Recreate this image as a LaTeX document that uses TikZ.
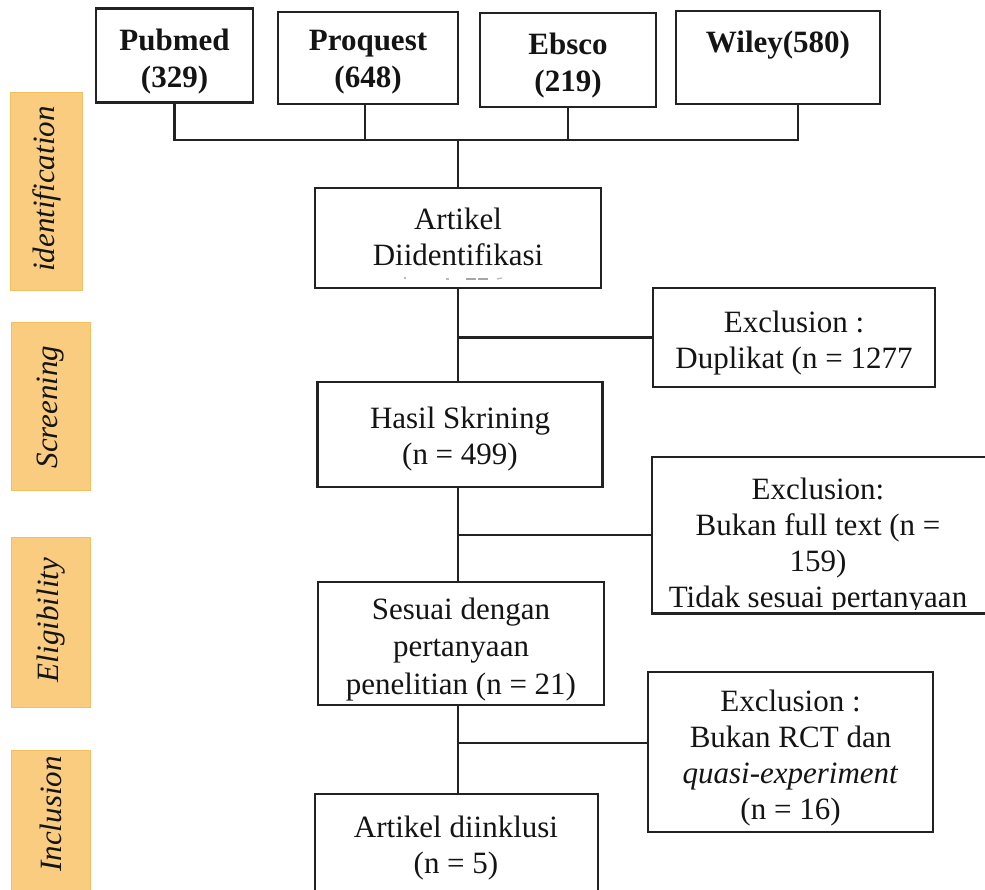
\documentclass[tikz,border=0pt]{standalone}
\usepackage{fontspec}
\setmainfont{Liberation Serif}
\definecolor{txt}{HTML}{141414}
\definecolor{linec}{HTML}{222222}
\definecolor{phasefill}{HTML}{F9CC80}
\definecolor{phasedraw}{HTML}{F2C15F}
\begin{document}
\begin{tikzpicture}[x=1pt,y=-1pt,
  box/.style={draw=linec, line width=2.3pt, inner sep=0pt},
  plaintxt/.style={inner sep=0pt, align=center, text=txt, font=\fontsize{31}{36}\selectfont},
  boldtxt/.style={plaintxt, font=\fontsize{31}{37}\selectfont\bfseries},
  phase/.style={fill=phasefill, draw=phasedraw, line width=0.8pt, inner sep=0pt},
  phasetxt/.style={rotate=90, inner sep=0pt, text=txt, font=\fontsize{31}{36}\selectfont\itshape},
  link/.style={draw=linec, line width=2.3pt}]
\useasboundingbox (0,0) rectangle (985,889);
\fill[white] (0,0) rectangle (985,889);

% phase labels
\node[phase, minimum width=72, minimum height=198] (p1) at (46,191) {};
\node[phasetxt] (p1t) at (47,189) {identification};
\node[phase, minimum width=79, minimum height=168] (p2) at (50.5,406) {};
\node[phasetxt] (p2t) at (51,407) {Screening};
\node[phase, minimum width=79, minimum height=170] (p3) at (50.5,622) {};
\node[phasetxt] (p3t) at (51,620) {Eligibility};
\node[phase, minimum width=79, minimum height=155] (p4) at (50.5,827.5) {};
\node[phasetxt] (p4t) at (51,814) {Inclusion};

% sources
\node[box, minimum width=157, minimum height=94] (pub) at (174.5,55.5) {};
\node[boldtxt] (pubt) at ([yshift=-6.5pt]pub.center) {Pubmed\\(329)};
\node[box, minimum width=180, minimum height=92] (pro) at (368,58) {};
\node[boldtxt] (prot) at ([yshift=-4.5pt]pro.center) {Proquest\\(648)};
\node[box, minimum width=176, minimum height=94] (ebs) at (568,60) {};
\node[boldtxt] (ebst) at ([yshift=-6pt]ebs.center) {Ebsco\\(219)};
\node[box, minimum width=204, minimum height=93] (wil) at (778,57.5) {};
\node[boldtxt] (wilt) at ([yshift=-6pt]wil.center) {Wiley(580)\\\phantom{(580)}};

% main flow
\node[box, minimum width=286, minimum height=100] (art) at (458,238) {};
\node[plaintxt] (artt) at ([yshift=1.5pt]art.center) {Artikel\\Diidentifikasi};
\node[box, minimum width=285, minimum height=105] (has) at (460,434.5) {};
\node[plaintxt] (hast) at ([yshift=-5pt]has.center) {Hasil Skrining\\(n = 499)};
\node[box, minimum width=286, minimum height=123] (ses) at (461,643.5) {};
\node[plaintxt, font=\fontsize{31}{37.5}\selectfont] (sest) at ([yshift=-6pt]ses.center) {Sesuai dengan\\pertanyaan\\penelitian (n = 21)};
\node[box, minimum width=283, minimum height=111] (inc) at (456.5,849.5) {};
\node[plaintxt] (inct) at (456,848) {Artikel diinklusi\\(n = 5)};

% exclusions
\node[box, minimum width=282, minimum height=99] (ex1) at (794,337.5) {};
\node[plaintxt] (ex1t) at ([yshift=-6pt]ex1.center) {Exclusion :\\Duplikat (n = 1277};
\node[box, minimum width=340, minimum height=156] (ex2) at (822,535) {};
\begin{scope}
  \clip (653,458) rectangle (985,609);
  \node[plaintxt, anchor=north] (ex2t) at (818,477.3) {Exclusion:\\Bukan full text (n =\\159)\\Tidak sesuai pertanyaan};
\end{scope}
\draw[linec, line width=2.3pt] (ex2.south west) -- (ex2.south east);
\node[box, minimum width=285, minimum height=160] (ex3) at (790.5,752) {};
\node[plaintxt] (ex3t) at ([yshift=-6pt]ex3.center) {Exclusion :\\Bukan RCT dan\\\textit{quasi-experiment}\\(n = 16)};

% scan smudge under "Diidentifikasi"
\draw[gray!55, line width=1.2pt] (404,278) -- (405.5,278);
\draw[gray!55, line width=1.2pt] (446,279) -- (449,279);
\draw[gray!70, line width=1.4pt] (466,279) -- (476,279);
\draw[gray!70, line width=1.4pt] (478,279) -- (488,279);
\draw[gray!55, line width=1.2pt] (497,279) -- (502,278);

% connectors
\coordinate (bus) at (458,140);
\draw[link] (pub.south) -- (pub.south |- bus) -- ([xshift=20pt]wil.south |- bus) -- ([xshift=20pt]wil.south);
\draw[link] ([xshift=-3pt]pro.south) -- ([xshift=-3pt]pro.south |- bus);
\draw[link] (ebs.south) -- (ebs.south |- bus);
\draw[link] (bus) -- (bus |- art.north);
\draw[link] (art.south) -- (art.south |- has.north);
\draw[link] (art.south |- has.south) -- (art.south |- ses.north);
\draw[link] (art.south |- ses.south) -- (art.south |- inc.north);
\draw[link] (ex1.west) -- (ex1.west -| art.south);
\draw[link] (ex2.west) -- (ex2.west -| art.south);
\draw[link] ([yshift=9pt]ex3.west) -- ([yshift=9pt]ex3.west -| art.south);
\end{tikzpicture}
\end{document}
